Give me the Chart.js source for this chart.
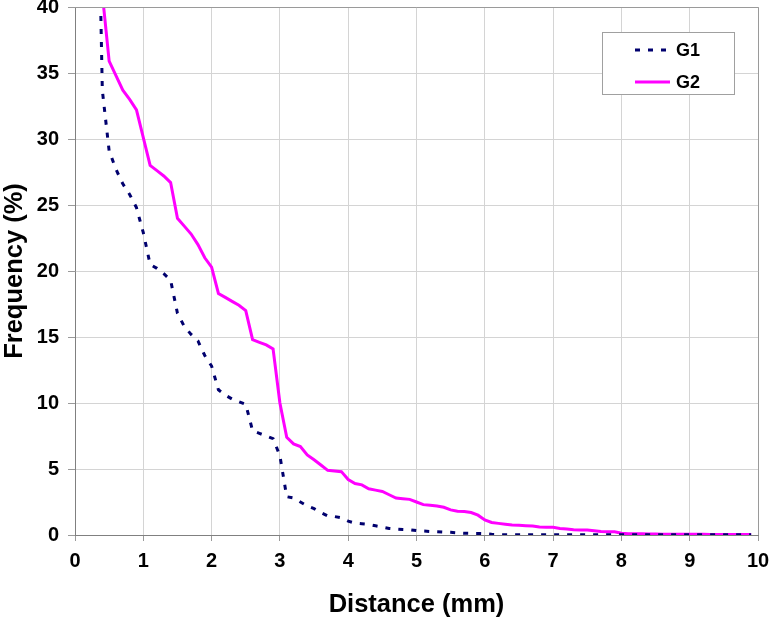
<!DOCTYPE html>
<html>
<head>
<meta charset="utf-8">
<script src="https://cdn.jsdelivr.net/npm/chart.js@4/dist/chart.umd.min.js"></script>
<style>
html,body{margin:0;padding:0;background:#fff;}
#wrap{width:769px;height:621px;}
</style>
</head>
<body>
<div id="wrap"><canvas id="c" width="769" height="621"></canvas></div>
<script>
const distance = [0.3,0.4,0.5,0.6,0.7,0.8,0.9,1.0,1.1,1.2,1.3,1.4,1.5,1.6,1.7,1.8,1.9,2.0,
  2.1,2.2,2.3,2.4,2.5,2.6,2.7,2.8,2.9,3.0,3.1,3.2,3.3,3.4,3.5,3.6,3.7,3.8,3.9,4.0,
  4.1,4.2,4.3,4.4,4.5,4.6,4.7,4.8,4.9,5.0,5.1,5.2,5.3,5.4,5.5,5.6,5.7,5.8,5.9,6.0,
  6.1,6.2,6.3,6.4,6.5,6.6,6.7,6.8,6.9,7.0,7.1,7.2,7.3,7.4,7.5,7.6,7.7,7.8,7.9,8.0,
  8.1,8.2,8.3,8.4,8.5,8.6,8.7,8.8,8.9,9.0,9.1,9.2,9.3,9.4,9.5,9.6,9.7,9.8,9.9];

const g1 = [60,33.7,29.1,27.7,26.6,25.8,24.8,22.9,20.5,20.2,19.8,19.3,16.8,15.8,15.2,14.7,13.6,12.8,
  11.0,10.6,10.3,10.1,9.9,7.9,7.7,7.5,7.3,6.0,2.9,2.8,2.5,2.2,2.0,1.7,1.45,1.4,1.3,1.05,
  0.9,0.85,0.8,0.7,0.6,0.5,0.45,0.42,0.4,0.33,0.3,0.27,0.25,0.22,0.2,0.16,0.13,0.12,0.12,0.1,
  0.05,0.03,0.02,0.02,0.02,0.02,0.02,0.02,0.02,0.02,0.02,0.02,0.02,0.02,0.02,0.02,0.02,0.02,0.02,0.02,
  0.01,0.01,0.01,0.01,0.01,0.01,0.01,0.01,0.01,0.01,0.01,0.01,0.01,0.01,0.01,0.01,0.01,0.01,0.01];

const g2 = [55,41,35.9,34.8,33.7,33.0,32.2,30.1,28.0,27.6,27.2,26.7,24.0,23.4,22.8,22.0,21.0,20.3,
  18.3,18.0,17.7,17.4,17.0,14.8,14.6,14.4,14.1,10.0,7.4,6.9,6.7,6.06,5.7,5.3,4.9,4.85,4.8,4.2,
  3.9,3.8,3.5,3.4,3.3,3.05,2.8,2.75,2.7,2.5,2.3,2.25,2.2,2.1,1.9,1.8,1.78,1.7,1.5,1.14,
  0.95,0.88,0.82,0.76,0.74,0.71,0.68,0.6,0.58,0.58,0.5,0.45,0.4,0.38,0.38,0.32,0.26,0.25,0.25,0.14,
  0.1,0.1,0.09,0.08,0.07,0.06,0.06,0.06,0.05,0.05,0.05,0.05,0.04,0.04,0.04,0.04,0.04,0.04,0.04];

const xTicks = [0,1,2,3,4,5,6,7,8,9,10];
const yTicks = [0,5,10,15,20,25,30,35,40];
const seriesNames = ['G1','G2'];
const xTitle = 'Distance (mm)';
const yTitle = 'Frequency (%)';

const FONT = 'Liberation Sans, Arial, sans-serif';
const G1_COLOR = '#00006e';
const G2_COLOR = '#ff00ff';

const toPts = arr => distance.map((d,i)=>({x:d,y:arr[i]}));

const framePlugin = {
  id:'frame',
  afterDatasetsDraw(chart){
    const {ctx, chartArea:a} = chart;
    ctx.save();
    ctx.strokeStyle = '#9a9a9a';
    ctx.lineWidth = 1;
    ctx.beginPath();
    ctx.moveTo(a.left, a.top+0.5); ctx.lineTo(a.right+0.5, a.top+0.5);
    ctx.lineTo(a.right+0.5, a.bottom);
    ctx.stroke();
    // legend
    const bx=602.5, by=32.5, bw=132, bh=62;
    ctx.fillStyle='#fff';
    ctx.fillRect(bx,by,bw,bh);
    ctx.strokeStyle='#a0a0a0';
    ctx.strokeRect(bx,by,bw,bh);
    const ds = chart.data.datasets;
    const rows=[50,82];
    ds.forEach((d,i)=>{
      ctx.save();
      ctx.strokeStyle=d.borderColor;
      ctx.lineWidth=d.borderWidth;
      ctx.setLineDash(d.borderDash||[]);
      ctx.beginPath();
      ctx.moveTo(635,rows[i]); ctx.lineTo(670,rows[i]);
      ctx.stroke();
      ctx.restore();
      ctx.fillStyle='#000';
      ctx.font='bold 18px '+FONT;
      ctx.textBaseline='middle';
      ctx.textAlign='left';
      ctx.fillText(d.label,676,rows[i]+1);
    });
    ctx.restore();
  }
};

new Chart(document.getElementById('c'),{
  type:'line',
  data:{
    datasets:[
      {label:seriesNames[0], data:toPts(g1), borderColor:G1_COLOR, backgroundColor:G1_COLOR,
       borderWidth:3, borderDash:[5,8], pointRadius:0, tension:0, fill:false},
      {label:seriesNames[1], data:toPts(g2), borderColor:G2_COLOR, backgroundColor:G2_COLOR,
       borderWidth:3, pointRadius:0, tension:0, fill:false}
    ]
  },
  options:{
    responsive:false,
    animation:false,
    devicePixelRatio:1,
    layout:{padding:{top:7,right:11,left:0,bottom:0}},
    plugins:{legend:{display:false},tooltip:{enabled:false}},
    scales:{
      x:{
        type:'linear', min:0, max:10,
        afterBuildTicks(s){ s.ticks = xTicks.map(v=>({value:v})); },
        afterFit(s){ s.height = 86; s.paddingLeft = 0; s.paddingRight = 0; },
        ticks:{color:'#000', font:{family:FONT, size:20, weight:'bold'}, padding:8, maxRotation:0},
        grid:{color:'#d4d4d4', tickColor:'#9a9a9a', tickLength:6, drawTicks:true},
        border:{color:'#808080', width:1},
        title:{display:true, text:xTitle, color:'#000', font:{family:FONT, size:25.5, weight:'bold'}, padding:{top:0,bottom:1}}
      },
      y:{
        type:'linear', min:0, max:40,
        afterBuildTicks(s){ s.ticks = yTicks.map(v=>({value:v})); },
        afterFit(s){ s.width = 75; s.paddingTop = 0; s.paddingBottom = 0; },
        ticks:{color:'#000', font:{family:FONT, size:20, weight:'bold'}, padding:9},
        grid:{color:'#d4d4d4', tickColor:'#9a9a9a', tickLength:7, drawTicks:true},
        border:{color:'#808080', width:1},
        title:{display:true, text:yTitle, color:'#000', font:{family:FONT, size:25.5, weight:'bold'}, padding:{top:0,bottom:0}}
      }
    }
  },
  plugins:[framePlugin]
});
</script>
</body>
</html>
